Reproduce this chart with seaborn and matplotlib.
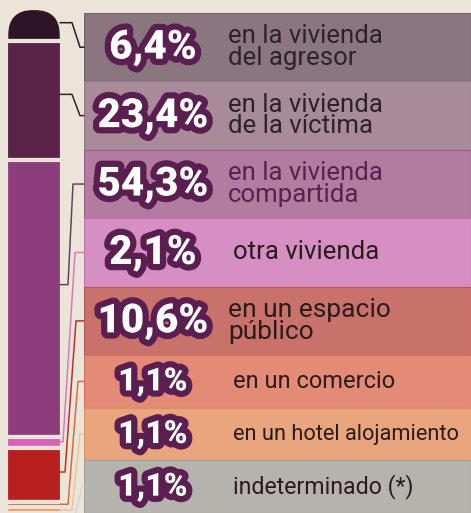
import numpy as np
import pandas as pd
import matplotlib
matplotlib.use("Agg")
import matplotlib.pyplot as plt
import matplotlib.patheffects as pe
from matplotlib.patches import FancyBboxPatch
from matplotlib.lines import Line2D
import seaborn as sns

# ---------------- data ----------------
pct_values = [6.4, 23.4, 54.3, 2.1, 10.6, 1.1, 1.1, 1.1]
pct_labels = ["6,4%", "23,4%", "54,3%", "2,1%", "10,6%", "1,1%", "1,1%", "1,1%"]
descriptions = [
    "en la vivienda\ndel agresor",
    "en la vivienda\nde la víctima",
    "en la vivienda\ncompartida",
    "otra vivienda",
    "en un espacio\npúblico",
    "en un comercio",
    "en un hotel alojamiento",
    "indeterminado (*)",
]

# ---------------- styles ----------------
BG = "#ebe5d9"
bar_colors = ["#2e1526", "#5a2348", "#8e3d7c", "#d862b8",
              "#b81f1f", "#d9532f", "#e89a6a", "#b4aea6"]
row_colors = ["#8b7680", "#a88b98", "#b27ba0", "#d68fc2",
              "#c9726b", "#e48b78", "#e9a57e", "#b6b3ae"]
row_edge = ["#74606a", "#94788a", "#9c5c8a", "#c070aa",
            "#b85a52", "#d0705e", "#d88e66", "#a29f9a"]
desc_colors = ["#2e2228", "#2e2228", "#5a2050", "#2a1c1c",
               "#2a1c1c", "#2a1c1c", "#2a1c1c", "#2a1c1c"]
line_colors = ["#2d1a26", "#3a2030", "#6a4060", "#d97ac0",
               "#c0302a", "#e0673f", "#f0c0a0", "#d8d3ca"]
row_heights = [1.3] * 5 + [1.0] * 3
pct_sizes = [29] * 5 + [23] * 3
desc_sizes = [18.5, 18.5, 18.5, 18.5, 19, 17, 15.7, 16.7]
desc_x = [0.372, 0.372, 0.372, 0.385, 0.372, 0.385, 0.385, 0.385]
kink1 = [72, 72, 68, 63, 65, 68, 72, 75]
kink2 = [80, 80, 73, 75, 76, 78, 80, 82]
CAP_RADIUS_PX = 25

sns.set_theme(style="white")
plt.rcParams["font.family"] = ["Roboto", "DejaVu Sans"]

W, H = 471, 513
fig = plt.figure(figsize=(W / 100, H / 100), dpi=100)
fig.patch.set_facecolor(BG)


def frac_rect(x0, y0, x1, y1):
    return [x0 / W, 1 - y1 / H, (x1 - x0) / W, (y1 - y0) / H]


BAR_TOP, BAR_LEFT, BAR_RIGHT = 8, 6, 62
ax_bar = fig.add_axes(frac_rect(BAR_LEFT, BAR_TOP, BAR_RIGHT, 513))
ax_rows = fig.add_axes(frac_rect(84, 13, 471, 513))
for a in (ax_bar, ax_rows):
    a.set_facecolor("none")

# ---------------- stacked bar ----------------
bottoms = np.concatenate([[0], np.cumsum(pct_values)[:-1]])
for v, b, c in zip(pct_values, bottoms, bar_colors):
    sns.barplot(x=[0], y=[v], bottom=b, color=c, width=1, errorbar=None,
                saturation=1, edgecolor=BG, linewidth=3.0, ax=ax_bar)
ax_bar.set_xlim(-0.5, 0.5)
ax_bar.set_ylim(99.0, 0)
ax_bar.axis("off")

# rounded top of the first segment: clip it with a rounded box in data coords
cap = ax_bar.patches[0]
px_per_x = (BAR_RIGHT - BAR_LEFT) / 1.0
px_per_y = (513 - BAR_TOP) / 99.0
r_x = CAP_RADIUS_PX / px_per_x
aspect = px_per_x / px_per_y
clip = FancyBboxPatch((cap.get_x() + 0.04, cap.get_y() + 0.4),
                      cap.get_width() - 0.08, cap.get_height() * 4,
                      boxstyle=f"round,pad=0,rounding_size={r_x}",
                      mutation_aspect=aspect,
                      transform=ax_bar.transData,
                      facecolor="none", edgecolor="none")
cap.set_clip_path(clip)

# ---------------- rows ----------------
edges = np.concatenate([[0], np.cumsum(row_heights)])
row_centers = (edges[:-1] + edges[1:]) / 2
ax_rows.barh(row_centers, [1] * len(row_heights), height=row_heights, left=0,
             color=row_colors, edgecolor=row_edge, linewidth=0.8)
ax_rows.set_xlim(0, 1)
ax_rows.set_ylim(edges[-1], 0)
ax_rows.axis("off")

stroke = [pe.withStroke(linewidth=9, foreground="#5a1f50")]
for i in range(len(pct_values)):
    ax_rows.text(0.178, row_centers[i], pct_labels[i], ha="center", va="center",
                 fontsize=pct_sizes[i], fontweight="black", color="white",
                 path_effects=stroke, zorder=5)
    ax_rows.text(desc_x[i], row_centers[i], descriptions[i], ha="left",
                 va="center", fontsize=desc_sizes[i], color=desc_colors[i],
                 linespacing=0.88, zorder=5)

# ---------------- connectors ----------------
inv = fig.transFigure.inverted()
for i in range(len(pct_values)):
    yb = bottoms[i] + 0.45 * pct_values[i]
    xb, yd = ax_bar.transData.transform((0.5, yb))
    xr, yr = ax_rows.transData.transform((0, row_centers[i]))
    pts = np.array([(xb - 2, yd), (kink1[i], yd), (kink2[i], yr), (xr, yr)])
    fpts = inv.transform(pts)
    fig.add_artist(Line2D(fpts[:, 0], fpts[:, 1], transform=fig.transFigure,
                          color=line_colors[i], linewidth=1.1, zorder=3))

fig.savefig("out.png", dpi=100, facecolor=BG)
